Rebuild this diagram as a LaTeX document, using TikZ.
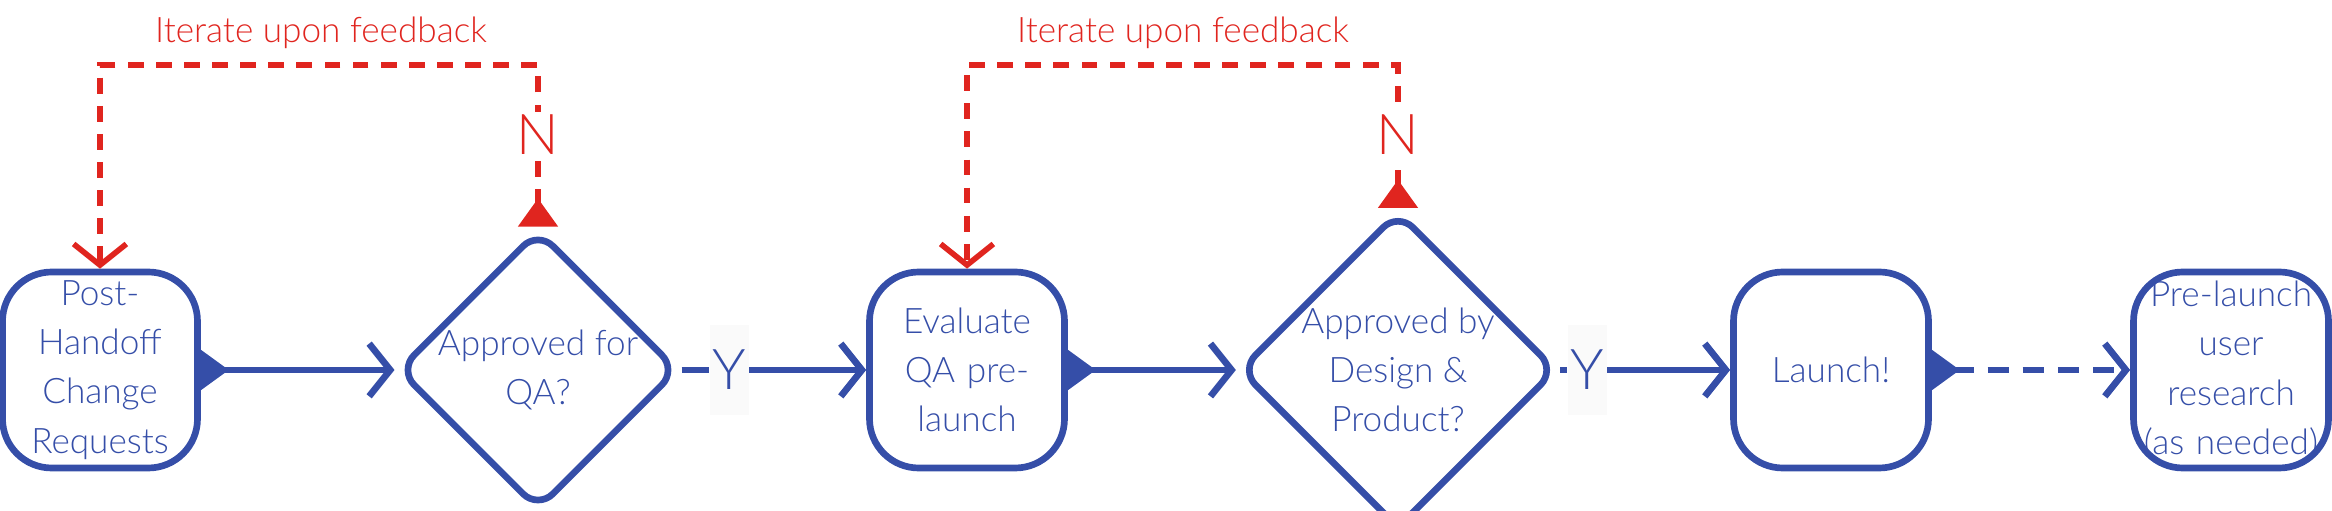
\documentclass[tikz,border=0pt]{standalone}
\usepackage{fontspec}
\setmainfont{Lato Light}
\usetikzlibrary{arrows.meta,shapes.geometric}
\definecolor{flowblue}{HTML}{354EA8}
\definecolor{flowred}{HTML}{E0251F}
\tikzset{
  stepbox/.style={draw=flowblue, line width=1.9pt, rounded corners=14pt, minimum width=1.95cm, minimum height=1.96cm, text width=1.85cm, align=center, text=flowblue, font=\fontsize{10}{14}\selectfont, inner sep=0pt},
  check/.style={draw=flowblue, line width=1.9pt, diamond, rounded corners=6pt, minimum width=2.71cm, minimum height=2.75cm, inner sep=0pt, align=center, text=flowblue, font=\fontsize{10}{14}\selectfont},
  yes/.style={fill=gray!4, minimum width=0.39cm, minimum height=0.9cm, inner sep=0pt, text=flowblue, font=\fontsize{16}{16}\selectfont},
  no/.style={fill=white, inner sep=1pt, text=flowred, font=\fontsize{16}{16}\selectfont},
  flow/.style={draw=flowblue, line width=1.9pt, {Triangle[reversed,length=8pt,width=11pt]}-{Straight Barb[length=6pt,width=15pt,line width=1.9pt]}},
  loop/.style={draw=flowred, line width=1.6pt, dash pattern=on 4.5pt off 3.5pt, {Triangle[reversed,length=8pt,width=11pt]}-{Straight Barb[length=6pt,width=15pt,line width=1.6pt]}}
}
\begin{document}
\begin{tikzpicture}
  \useasboundingbox (0,0) rectangle (23.32,5.11);

  % steps and checks
  \node[stepbox] (handoff) at (1.00,1.41) {Post-Handoff Change Requests};
  \node[check] (qa) at (5.38,1.41) {Approved for\\QA?};
  \node[yes] (y1) at (7.29,1.41) {Y};
  \node[stepbox] (evaluate) at (9.67,1.41) {Evaluate QA pre-launch};
  \node[check] (design) at (13.98,1.41) {Approved by\\Design \&\\Product?};
  \node[yes] (y2) at (15.87,1.41) {Y};
  \node[stepbox] (launch) at (18.31,1.41) {Launch!};
  \node[stepbox, text width=1.9cm] (research) at (22.31,1.41) {Pre-launch user research\\(as needed)};

  % main flow
  \draw[flow] (handoff) -- (qa);
  \draw[flow, -] (qa) -- (y1);
  \draw[flow, {}-{Straight Barb[length=6pt,width=15pt,line width=1.9pt]}] (y1) -- (evaluate);
  \draw[flow] (evaluate) -- (design);
  \draw[flow, -] (design) -- (y2);
  \draw[flow, {}-{Straight Barb[length=6pt,width=15pt,line width=1.9pt]}] (y2) -- (launch);
  \draw[flow, dash pattern=on 6pt off 4pt] (launch) -- (research);

  % feedback loops
  \coordinate (top1) at (5.38,4.46);
  \coordinate (top2) at (13.98,4.46);
  \draw[loop] (qa.north) -- (top1) -| (handoff.north);
  \draw[loop] (design.north) -- (top2) -| (evaluate.north);
  \node[no] (n1) at (5.38,3.76) {N};
  \node[no] (n2) at (13.98,3.76) {N};
  \node[text=flowred, font=\fontsize{10}{12}\selectfont] (fb1) at (3.21,4.78) {Iterate upon feedback};
  \node[text=flowred, font=\fontsize{10}{12}\selectfont] (fb2) at (11.83,4.78) {Iterate upon feedback};
\end{tikzpicture}
\end{document}
